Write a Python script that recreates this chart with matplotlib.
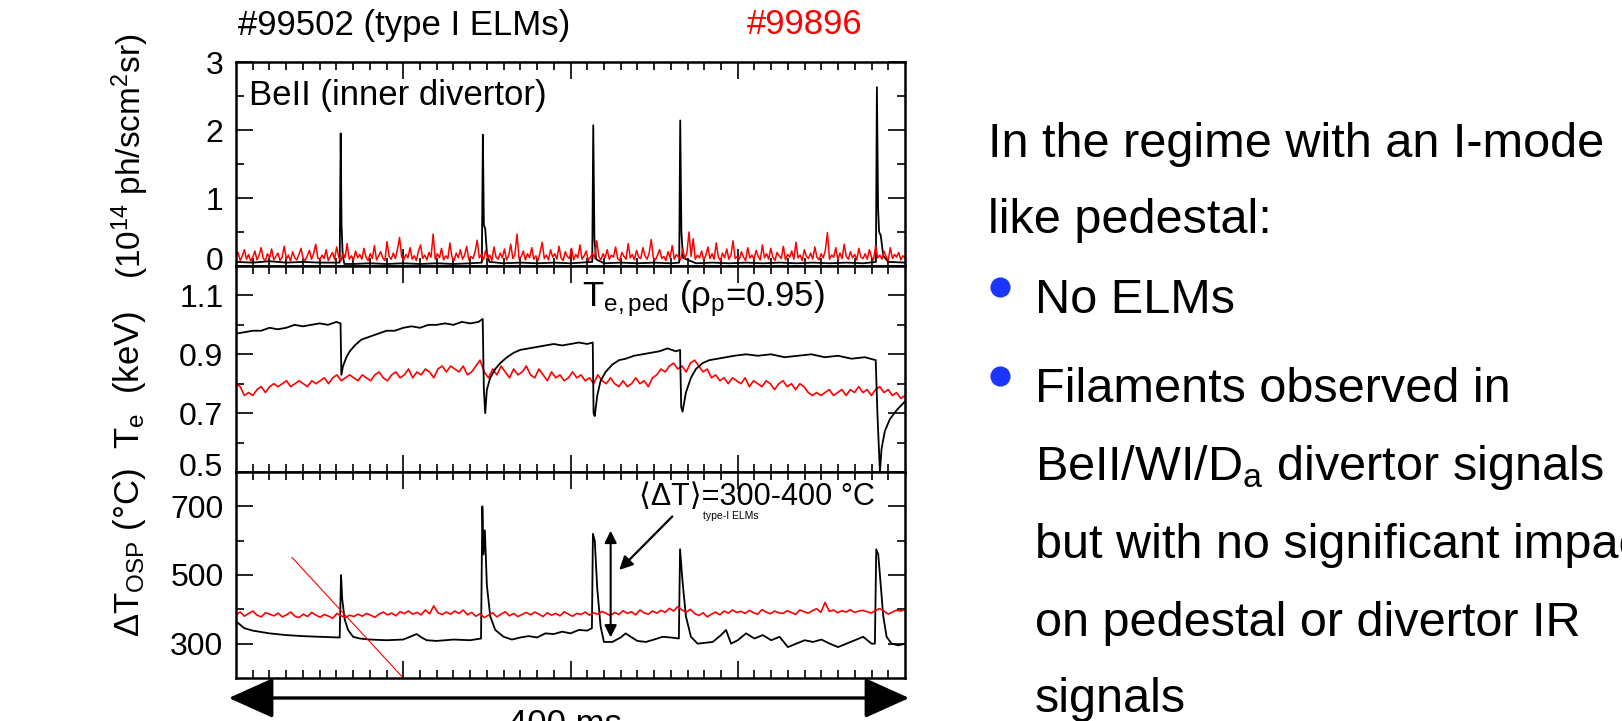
import numpy as np
import matplotlib
matplotlib.use('Agg')
import matplotlib.pyplot as plt
import matplotlib.transforms as mtransforms
from matplotlib.ticker import FixedLocator
from matplotlib.lines import Line2D
from matplotlib.patches import FancyArrowPatch

plt.rcParams['font.family'] = ['Liberation Sans', 'DejaVu Sans']
plt.rcParams['mathtext.fontset'] = 'custom'
plt.rcParams['mathtext.rm'] = 'Liberation Sans'
plt.rcParams['mathtext.it'] = 'Liberation Sans:italic'

# ---- data, time in ms ----
shot_a = '#99502 (type I ELMs)'
shot_b = '#99896'

# BeII inner divertor, #99502 (black)
bell_a_t = [0, 10, 20, 30, 40, 50, 62, 62.6, 63.1, 63.8, 64.8,
            70, 80, 90, 100, 110, 120, 130, 140, 147.0, 147.6,
            148.2, 149.0, 150.0, 151.5, 160, 170, 180, 190, 200, 213.0,
            213.6, 214.3, 215.3, 220, 230, 240, 250, 260, 265.0, 265.6,
            266.3, 267.3, 275, 285, 295, 305, 315, 325, 335, 345,
            355, 365, 375, 382.6, 383.2, 383.9, 384.5, 385.5, 387, 390, 400]
bell_a = [0.06, 0.05, 0.07, 0.05, 0.06, 0.05, 0.05, 1.95, 0.6, 0.15, 0.03,
          0.03, 0.04, 0.03, 0.04, 0.03, 0.04, 0.03, 0.04, 0.05, 1.93,
          0.6, 0.55, 0.2, 0.06, 0.04, 0.05, 0.04, 0.05, 0.04, 0.06,
          2.07, 0.4, 0.1, 0.04, 0.05, 0.04, 0.05, 0.04, 0.05, 2.14,
          0.5, 0.12, 0.04, 0.05, 0.04, 0.05, 0.04, 0.05, 0.04, 0.05,
          0.04, 0.05, 0.04, 0.06, 2.63, 0.85, 0.5, 0.45, 0.15, 0.06, 0.05]

# BeII inner divertor, #99896 (red), 1.25 ms samples
bell_b = [.12, .20, .08, .15, .24, .10, .17, .07, .13, .22, .09, .16, .27, .11, .08, .18, .12, .25, .09, .14,
          .19, .08, .13, .29, .10, .16, .07, .21, .12, .09, .17, .26, .11, .08, .15, .23, .10, .18, .32, .12,
          .09, .16, .11, .24, .08, .14, .20, .10, .28, .13, .07, .19, .12, .33, .10, .15, .09, .22, .12, .17,
          .10, .26, .13, .08, .18, .11, .30, .09, .15, .21, .12, .08, .36, .14, .10, .19, .11, .25, .42, .13,
          .09, .17, .12, .27, .10, .15, .08, .22, .31, .11, .16, .09, .20, .13, .47, .10, .18, .12, .26, .09,
          .15, .11, .34, .13, .08, .19, .12, .24, .10, .16, .29, .09, .14, .11, .21, .38, .12, .17, .09, .23,
          .11, .16, .08, .28, .13, .10, .19, .12, .25, .09, .15, .32, .11, .17, .47, .10, .14, .22, .09, .18,
          .12, .27, .10, .15, .08, .20, .35, .11, .16, .09, .24, .13, .18, .10, .29, .12, .08, .21, .14, .11,
          .26, .09, .17, .12, .31, .10, .15, .22, .08, .13, .19, .11, .37, .14, .09, .18, .12, .24, .10, .16,
          .13, .28, .11, .08, .20, .14, .10, .33, .12, .17, .09, .23, .13, .11, .27, .15, .10, .19, .39, .12,
          .09, .16, .24, .11, .14, .08, .21, .12, .30, .10, .17, .13, .09, .25, .11, .19, .50, .14, .40, .10,
          .16, .12, .22, .09, .15, .28, .11, .18, .10, .34, .13, .08, .19, .12, .25, .10, .16, .37, .11, .14,
          .10, .21, .13, .08, .27, .12, .16, .10, .23, .14, .09, .31, .12, .18, .10, .26, .13, .08, .20, .15,
          .11, .29, .09, .17, .13, .22, .10, .35, .12, .16, .08, .24, .14, .11, .19, .10, .28, .13, .09, .18,
          .12, .23, .49, .10, .16, .13, .27, .09, .19, .11, .32, .14, .10, .21, .12, .17, .09, .26, .13, .11,
          .18, .10, .24, .13, .09, .30, .12, .16, .10, .22, .14, .08, .27, .11, .17, .13, .20, .09, .15, .12]

# Te pedestal (keV), #99502 (black)
te_a_t = [0, 5, 10, 15, 20, 25, 30, 35, 40, 45, 50, 55, 60,
          62.5, 63, 64, 66, 68, 71, 75, 80, 85, 90, 95,
          100, 105, 110, 115, 120, 125, 130, 135, 140, 145,
          147.5, 148.2, 149, 150, 152, 155, 158, 162, 166, 170,
          175, 180, 185, 190, 195, 200, 205, 210,
          213.3, 213.8, 214.5, 216, 218, 221, 225, 229, 233, 238,
          243, 248, 253, 258, 263,
          265.5, 266.2, 267, 269, 272, 275, 279, 283, 288, 293,
          298, 305, 312, 320, 328, 336, 344, 352, 360, 368, 376,
          382.5, 383.5, 385, 386, 388, 391, 395, 400]
te_a = [0.97, 0.975, 0.98, 0.98, 0.99, 0.985, 0.99, 1.0, 0.995, 1.0, 1.005, 1.0, 1.01,
        1.005, 0.83, 0.86, 0.89, 0.91, 0.93, 0.95, 0.96, 0.97, 0.98, 0.98,
        0.99, 0.995, 0.99, 1.0, 1.0, 1.005, 1.0, 1.01, 1.005, 1.01,
        1.02, 0.78, 0.70, 0.78, 0.82, 0.85, 0.87, 0.89, 0.905, 0.915,
        0.92, 0.925, 0.93, 0.935, 0.93, 0.935, 0.94, 0.935,
        0.94, 0.70, 0.69, 0.76, 0.81, 0.84, 0.865, 0.88, 0.885, 0.895,
        0.90, 0.905, 0.91, 0.92, 0.91,
        0.915, 0.72, 0.705, 0.77, 0.82, 0.85, 0.87, 0.88, 0.885, 0.89,
        0.895, 0.90, 0.895, 0.90, 0.89, 0.895, 0.90, 0.89, 0.895, 0.885, 0.89,
        0.88, 0.70, 0.50, 0.58, 0.64, 0.68, 0.71, 0.74]

# Te pedestal (keV), #99896 (red), 2.5 ms samples
te_b = [0.80, 0.79, 0.76, 0.77, 0.76, 0.78, 0.79, 0.77, 0.79, 0.80,
        0.79, 0.80, 0.81, 0.79, 0.80, 0.81, 0.80, 0.79, 0.81, 0.80,
        0.81, 0.82, 0.80, 0.82, 0.83, 0.81, 0.82, 0.83, 0.82, 0.81,
        0.83, 0.82, 0.81, 0.83, 0.84, 0.82, 0.81, 0.83, 0.84, 0.82,
        0.83, 0.85, 0.82, 0.84, 0.83, 0.85, 0.84, 0.82, 0.85, 0.86,
        0.84, 0.86, 0.85, 0.84, 0.86, 0.83, 0.84, 0.86, 0.88, 0.84,
        0.82, 0.85, 0.83, 0.86, 0.84, 0.82, 0.85, 0.83, 0.84, 0.86,
        0.83, 0.82, 0.85, 0.83, 0.81, 0.84, 0.82, 0.83, 0.81, 0.82,
        0.84, 0.82, 0.83, 0.81, 0.82, 0.80, 0.83, 0.81, 0.80, 0.82,
        0.80, 0.79, 0.81, 0.79, 0.80, 0.82, 0.80, 0.81, 0.79, 0.82,
        0.83, 0.85, 0.84, 0.86, 0.87, 0.85, 0.86, 0.84, 0.87, 0.88,
        0.86, 0.84, 0.85, 0.82, 0.83, 0.81, 0.82, 0.80, 0.82, 0.81,
        0.80, 0.82, 0.79, 0.81, 0.80, 0.79, 0.81, 0.80, 0.78, 0.80,
        0.81, 0.79, 0.80, 0.78, 0.80, 0.79, 0.77, 0.76, 0.77, 0.76,
        0.77, 0.78, 0.76, 0.77, 0.78, 0.76, 0.78, 0.77, 0.79, 0.77,
        0.78, 0.76, 0.78, 0.79, 0.77, 0.78, 0.76, 0.77, 0.75, 0.76]

# Outer strike point temperature rise (C), #99502 (black)
dt_a_t = [0, 5, 10, 20, 30, 40, 50, 62,
          62.8, 63.5, 65, 67, 70, 74, 80, 90, 100,
          108, 111, 114, 120, 130, 140, 146.5,
          147.3, 148, 148.8, 150, 152, 155, 160, 165, 170, 175,
          180, 185, 190, 195, 200, 205, 210,
          212.8, 213.4, 214.5, 216, 218, 220, 225, 230, 233, 236,
          240, 245, 250, 255, 260, 264.8,
          265.5, 267, 269, 272, 276, 285, 290, 293, 296, 300,
          305, 310, 315, 320, 325, 330, 335, 340, 345, 350,
          355, 360, 365, 370, 375, 380, 382,
          382.8, 384, 385.5, 387, 389, 392, 396, 400]
dt_a = [365, 345, 338, 330, 325, 322, 320, 318,
        500, 430, 370, 340, 320, 315, 312, 310, 312,
        328, 318, 310, 308, 312, 310, 315,
        700, 560, 630, 470, 380, 340, 320, 312, 318, 322,
        318, 330, 328, 335, 330, 340, 338,
        345, 620, 600, 460, 350, 305, 305, 318, 330, 320,
        308, 305, 312, 320, 318, 315,
        575, 480, 380, 320, 300, 305, 325, 340, 300, 310,
        330, 315, 325, 310, 320, 290, 300, 310, 305, 312,
        300, 290, 300, 310, 320, 300, 300,
        575, 560, 470, 380, 320, 300, 295, 300]

# Outer strike point temperature rise (C), #99896 (red), 2.5 ms samples
dt_b = [385, 392, 380, 388, 395, 383, 378, 390, 386, 381,
        389, 378, 384, 392, 380, 376, 386, 379, 391, 383,
        377, 385, 380, 374, 388, 381, 376, 383, 379, 386,
        380, 388, 383, 377, 386, 392, 384, 389, 381, 393,
        388, 395, 386, 391, 384, 398, 387, 410, 390, 385,
        392, 386, 395, 388, 398, 384, 391, 380, 387, 376,
        383, 390, 378, 386, 393, 381, 388, 379, 385, 391,
        384, 392, 386, 379, 390, 383, 388, 381, 393, 386,
        380, 388, 385, 392, 383, 390, 386, 394, 388, 382,
        391, 385, 396, 388, 393, 384, 398, 390, 386, 395,
        389, 397, 391, 403, 395, 408, 398, 392, 400, 388,
        382, 390, 378, 386, 392, 384, 395, 389, 398, 391,
        394, 388, 397, 390, 386, 399, 392, 387, 395, 390,
        388, 396, 391, 385, 398, 393, 389, 396, 402, 391,
        420, 394, 398, 390, 396, 392, 399, 391, 395, 397,
        393, 389, 397, 402, 395, 386, 392, 398, 395, 400]

# guide line and <dT> arrows in the bottom panel
guide_x = [33.5, 100]
guide_y = [551, 200]
span_x = 224
span_y = [310, 637]
pointer_from = (262, 676)
pointer_to = (228, 509)

bullet_lines = [
    ['No ELMs'],
    ['Filaments observed in', 'BeII/WI/D$_\\mathregular{a}$ divertor signals',
     'but with no significant impact', 'on pedestal or divertor IR', 'signals'],
]

# ---- figure ----
W, H = 1622, 721
fig = plt.figure(figsize=(W / 100, H / 100), dpi=100)


def px_axes(x0, y0, x1, y1):
    return fig.add_axes([x0 / W, 1 - y1 / H, (x1 - x0) / W, (y1 - y0) / H])


ax1 = px_axes(236, 62, 905, 266)
ax2 = px_axes(236, 266, 905, 472)
ax3 = px_axes(236, 472, 905, 678)

ax1.plot(bell_a_t, bell_a, color='black', lw=1.3)
ax1.plot(np.linspace(0, 400, len(bell_b)), bell_b, color='red', lw=1.1)
ax1.set_ylim(0, 3)
ax1.yaxis.set_major_locator(FixedLocator([0, 1, 2, 3]))
ax1.yaxis.set_minor_locator(FixedLocator([0.5, 1.5, 2.5]))

ax2.plot(np.linspace(0, 400, len(te_b)), te_b, color='red', lw=1.2)
ax2.plot(te_a_t, te_a, color='black', lw=1.3)
ax2.set_ylim(0.5, 1.2)
ax2.yaxis.set_major_locator(FixedLocator([0.5, 0.7, 0.9, 1.1]))
ax2.yaxis.set_minor_locator(FixedLocator([0.6, 0.8, 1.0]))
ax2.set_yticklabels(['0.5', '0.7', '0.9', '1.1'])

ax3.plot(dt_a_t, dt_a, color='black', lw=1.3)
ax3.plot(np.linspace(0, 400, len(dt_b)), dt_b, color='red', lw=1.2)
ax3.plot(guide_x, guide_y, color='red', lw=0.8)
ax3.set_ylim(200, 800)
ax3.yaxis.set_major_locator(FixedLocator([300, 500, 700]))
ax3.yaxis.set_minor_locator(FixedLocator([400, 600]))

for ax in (ax1, ax2, ax3):
    ax.set_xlim(0, 400)
    ax.xaxis.set_major_locator(FixedLocator([100, 200, 300]))
    ax.xaxis.set_minor_locator(FixedLocator(list(range(10, 400, 10))))
    ax.tick_params(which='both', direction='in', top=True, right=True,
                   labelbottom=False, labelsize=23, width=1.2, pad=9)
    ax.tick_params(which='major', length=12)
    ax.tick_params(which='minor', length=6)
    for s in ax.spines.values():
        s.set_linewidth(1.8)

# lowest labels of the upper two panels sit a little above their tick
lift = mtransforms.ScaledTranslation(0, 8 / 100, fig.dpi_scale_trans)
for ax in (ax1, ax2):
    lab = ax.yaxis.get_major_ticks()[0].label1
    lab.set_transform(lab.get_transform() + lift)

# panel texts
ax1.text(8, 2.5, 'BeII (inner divertor)', fontsize=25, va='center')
ax2.text(207, 1.09, 'T$_\\mathregular{e,ped}$ (\u03c1$_\\mathregular{p}$=0.95)', fontsize=25, va='center')
ax3.text(241, 728, '\u27e8\u0394T\u27e9=300-400 \u00b0C', fontsize=22, va='center')
ax3.text(279, 672, 'type-I ELMs', fontsize=7.5, va='center')
ax3.annotate('', xy=(span_x, span_y[1]), xytext=(span_x, span_y[0]),
             arrowprops=dict(arrowstyle='<|-|>', color='black', lw=1.5, mutation_scale=18))
ax3.annotate('', xy=pointer_to, xytext=pointer_from,
             arrowprops=dict(arrowstyle='-|>', color='black', lw=1.6, mutation_scale=20))

# y labels
fig.text(130 / W, 1 - 156 / H, '(10$^{\\mathregular{14}}$ ph/scm$^{\\mathregular{2}}$sr)',
         rotation=90, ha='center', va='center', fontsize=24)
fig.text(130 / W, 1 - 380 / H, 'T$_\\mathregular{e}$  (keV)', rotation=90, ha='center', va='center', fontsize=25)
fig.text(130 / W, 1 - 553 / H, '\u0394T$_\\mathregular{OSP}$ (\u00b0C)', rotation=90, ha='center', va='center', fontsize=25)

# shot titles
fig.text(238 / W, 1 - 25 / H, shot_a, fontsize=25, va='center')
fig.text(747 / W, 1 - 25 / H, shot_b, fontsize=25, va='center', color='red')

# 400 ms span arrow
fig.add_artist(FancyArrowPatch(
    (226 / W, 1 - 698 / H), (912 / W, 1 - 698 / H), transform=fig.transFigure,
    arrowstyle='<|-|>,head_length=1.0,head_width=0.45', mutation_scale=28, lw=2.4, color='black'))
fig.text(565 / W, 1 - 734 / H, '400 ms', fontsize=25, ha='center', va='baseline')

# slide text on the right
rsize = 35
fig.text(988 / W, 1 - 157 / H, 'In the regime with an I-mode', fontsize=rsize, va='baseline')
fig.text(988 / W, 1 - 233 / H, 'like pedestal:', fontsize=rsize, va='baseline')
baselines = [[313], [402, 480, 558, 636, 712]]
dots = [287, 376]
for lines, ys, dy in zip(bullet_lines, baselines, dots):
    fig.add_artist(Line2D([1000 / W], [1 - dy / H], marker='o', ms=13.5, color='#1a35ff',
                          transform=fig.transFigure))
    for txt, y in zip(lines, ys):
        fig.text(1035 / W, 1 - y / H, txt, fontsize=rsize, va='baseline')

fig.savefig('out.png', dpi=100)
